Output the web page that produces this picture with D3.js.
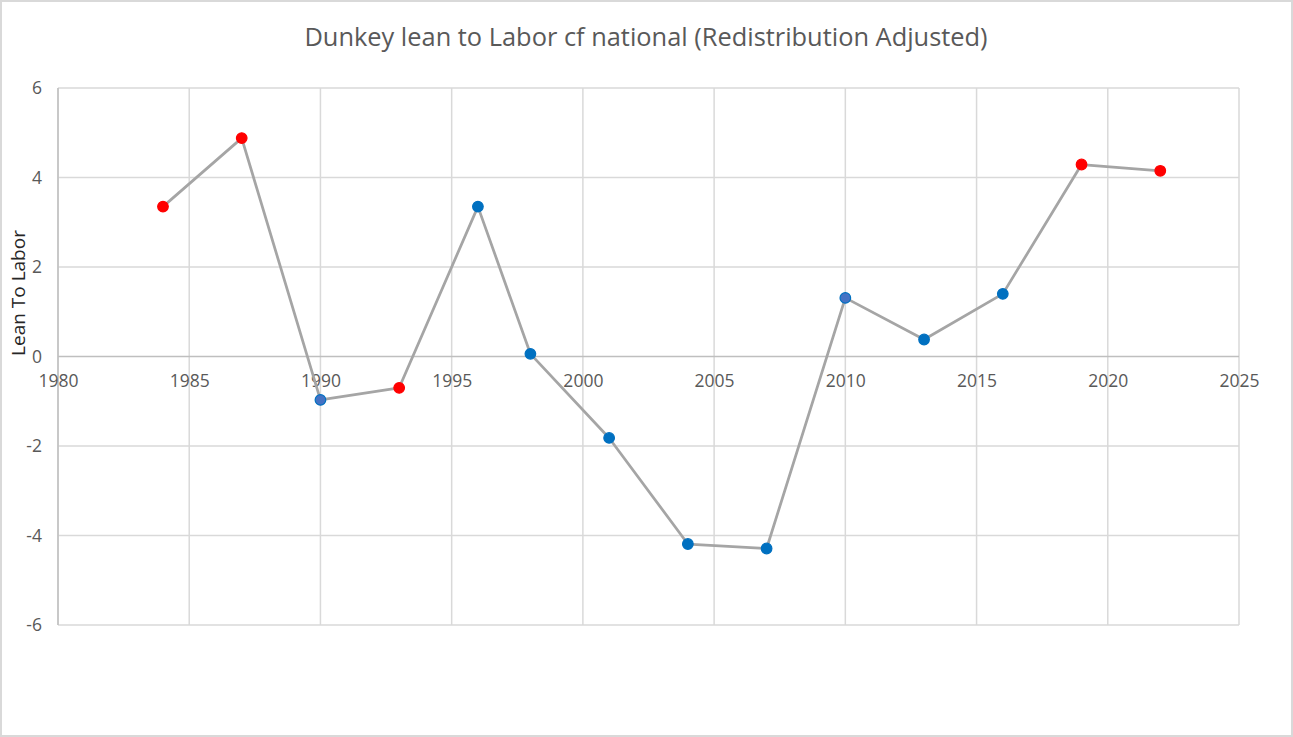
<!DOCTYPE html>
<html><head><meta charset="utf-8">
<script src="https://cdn.jsdelivr.net/npm/d3@7"></script>
<style>
html,body{margin:0;padding:0;background:#fff;}
svg{display:block;}
</style></head>
<body>
<svg id="chart" width="1293" height="737"></svg>
<script>
const years = [1984, 1987, 1990, 1993, 1996, 1998, 2001, 2004, 2007, 2010, 2013, 2016, 2019, 2022];
const lean = [3.35, 4.88, -0.97, -0.70, 3.35, 0.06, -1.82, -4.19, -4.29, 1.31, 0.38, 1.40, 4.29, 4.15];
const party = ["L", "L", "C2", "L", "C", "C", "C", "C", "C", "C2", "C", "C", "L", "L"];
const xTicks = [1980, 1985, 1990, 1995, 2000, 2005, 2010, 2015, 2020, 2025];
const yTicks = [-6, -4, -2, 0, 2, 4, 6];
const title = "Dunkey lean to Labor cf national (Redistribution Adjusted)";
const yLabel = "Lean To Labor";

const svg = d3.select("#chart");
const W = 1293, H = 737;
const m = {left: 58, right: 1239, top: 88, bottom: 625};
const font = "'Open Sans', 'Noto Sans', sans-serif";

svg.append("rect").attr("x", 1).attr("y", 1).attr("width", W - 2).attr("height", H - 2)
  .attr("fill", "#fff").attr("stroke", "#d9d9d9").attr("stroke-width", 2);

const x = d3.scaleLinear().domain([1980, 2025]).range([m.left, m.right]);
const y = d3.scaleLinear().domain([-6, 6]).range([m.bottom, m.top]);

// gridlines
const g = svg.append("g");
g.selectAll("line.vg").data(xTicks).join("line")
  .attr("x1", d => x(d)).attr("x2", d => x(d))
  .attr("y1", m.top).attr("y2", m.bottom)
  .attr("stroke", "#d9d9d9").attr("stroke-width", 1.5);
g.selectAll("line.hg").data(yTicks.filter(d => d !== 0)).join("line")
  .attr("x1", m.left).attr("x2", m.right)
  .attr("y1", d => y(d)).attr("y2", d => y(d))
  .attr("stroke", "#d9d9d9").attr("stroke-width", 1.5);

// axis lines
svg.append("line").attr("x1", m.left).attr("x2", m.left).attr("y1", m.top).attr("y2", m.bottom)
  .attr("stroke", "#bfbfbf").attr("stroke-width", 1.5);
svg.append("line").attr("x1", m.left).attr("x2", m.right).attr("y1", y(0)).attr("y2", y(0))
  .attr("stroke", "#bfbfbf").attr("stroke-width", 1.5);

// y axis labels
const yAxis = d3.axisLeft(y).tickValues(yTicks).tickSize(0).tickPadding(16).tickFormat(d => String(d));
const ya = svg.append("g").attr("transform", `translate(${m.left},0)`).call(yAxis);
ya.select(".domain").remove();
ya.selectAll("text").attr("font-family", font).attr("font-size", 17.5).attr("fill", "#595959");

// x axis labels at zero
const xAxis = d3.axisBottom(x).tickValues(xTicks).tickSize(0).tickPadding(18).tickFormat(d => String(d));
const xa = svg.append("g").attr("transform", `translate(0,${y(0)})`).call(xAxis);
xa.select(".domain").remove();
xa.selectAll("text").attr("font-family", font).attr("font-size", 17.5).attr("fill", "#595959");

// line
const pts = years.map((yr, i) => ({yr, v: lean[i], p: party[i]}));
svg.append("path").datum(pts)
  .attr("d", d3.line().x(d => x(d.yr)).y(d => y(d.v)))
  .attr("fill", "none").attr("stroke", "#a5a5a5").attr("stroke-width", 2.75).attr("stroke-linejoin", "round");

const fillC = {L: "#ff0000", C: "#0070c0", C2: "#4472c4"};
const strokeC = {L: "#ff0000", C: "#0070c0", C2: "#0070c0"};
svg.selectAll("circle.pt").data(pts).join("circle")
  .attr("cx", d => x(d.yr)).attr("cy", d => y(d.v)).attr("r", 5.3)
  .attr("fill", d => fillC[d.p]).attr("stroke", d => strokeC[d.p]).attr("stroke-width", 1.2);

// title
svg.append("text").attr("x", 646).attr("y", 45.5).attr("text-anchor", "middle")
  .attr("font-family", font).attr("font-size", 25.4).attr("fill", "#595959").text(title);

// y label
svg.append("text").attr("transform", "translate(25,293) rotate(-90)").attr("text-anchor", "middle")
  .attr("font-family", font).attr("font-size", 19).attr("fill", "#262626").text(yLabel);
</script>
</body></html>
